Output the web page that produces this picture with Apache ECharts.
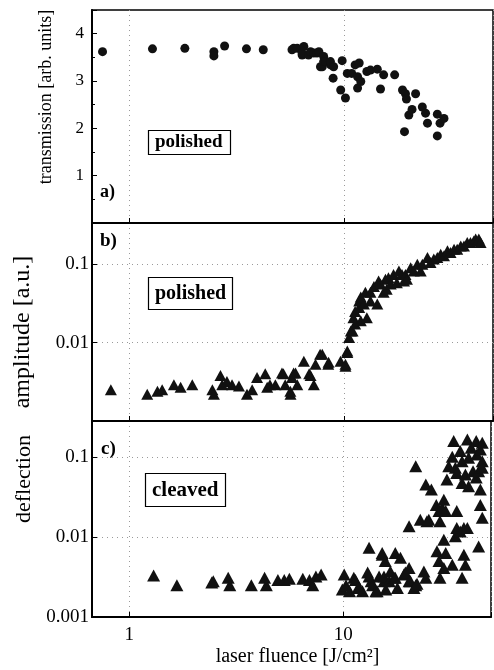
<!DOCTYPE html>
<html>
<head>
<meta charset="utf-8">
<script src="https://cdn.jsdelivr.net/npm/echarts@6/dist/echarts.min.js"></script>
<style>
  html, body { margin: 0; padding: 0; background: #fff; }
  #chart { width: 494px; height: 670px; }
</style>
</head>
<body>
<div id="chart"></div>
<script>
// a) transmission, polished sample
const transX = [0.75, 1.28, 1.81, 2.47, 2.47, 2.77, 3.50, 4.19, 5.70, 5.80, 6.03, 6.35, 6.35, 6.47, 6.80, 6.95, 7.20, 7.45, 7.60, 7.73, 7.88, 8.0, 8.0, 8.16, 8.61, 8.6, 8.85, 8.9, 9.6, 9.75, 10.1, 10.3, 10.8, 11.2, 11.5, 11.5, 11.7, 11.9, 12.7, 13.2, 14.2, 14.7, 15.2, 17.1, 18.6, 19.0, 19.2, 19.4, 19.9, 20.6, 21.4, 23.0, 23.8, 24.3, 27.0, 27.0, 27.8, 29.0];
const transY = [3.62, 3.68, 3.69, 3.62, 3.53, 3.74, 3.68, 3.66, 3.66, 3.69, 3.69, 3.55, 3.59, 3.73, 3.55, 3.62, 3.59, 3.59, 3.62, 3.30, 3.30, 3.52, 3.41, 3.41, 3.34, 3.41, 3.06, 3.30, 2.81, 3.43, 2.64, 3.16, 3.16, 3.34, 3.09, 2.85, 3.38, 2.99, 3.20, 3.23, 3.25, 2.83, 3.13, 3.13, 2.81, 1.93, 2.73, 2.62, 2.28, 2.40, 2.73, 2.45, 2.32, 2.11, 2.30, 1.84, 2.11, 2.21];

// b) amplitude, polished sample
const ampX = [0.82, 1.21, 1.35, 1.42, 1.61, 1.73, 1.96, 2.43, 2.47, 2.65, 2.70, 2.84, 3.00, 3.23, 3.52, 3.72, 3.92, 4.28, 4.37, 4.50, 4.77, 5.12, 5.20, 5.30, 5.61, 5.60, 5.70, 5.80, 5.92, 6.03, 6.47, 6.85, 6.95, 7.20, 7.33, 7.70, 7.88, 8.40, 8.43, 9.58, 10.1, 10.1, 10.3, 10.3, 10.5, 10.7, 10.9, 11.0, 11.2, 11.2, 11.7, 11.7, 11.9, 11.9, 12.3, 12.5, 12.7, 13.2, 13.2, 13.7, 14.2, 14.4, 14.7, 15.2, 15.5, 15.7, 16.0, 16.4, 16.9, 17.5, 17.9, 18.5, 18.9, 19.2, 19.5, 20.3, 21.0, 21.8, 22.6, 23.0, 24.3, 25.1, 26.0, 27.0, 28.0, 29.0, 30.1, 31.1, 32.3, 33.4, 34.7, 35.9, 37.2, 38.5, 39.9, 40.7, 42.1, 42.9];
const ampY = [0.0025, 0.0022, 0.0024, 0.0025, 0.0029, 0.0027, 0.0029, 0.0025, 0.0022, 0.0038, 0.0029, 0.0032, 0.0029, 0.0028, 0.0022, 0.0025, 0.0036, 0.0040, 0.0027, 0.0029, 0.0029, 0.0041, 0.0040, 0.0029, 0.0022, 0.0024, 0.0036, 0.0041, 0.0041, 0.0029, 0.0058, 0.0040, 0.0038, 0.0029, 0.0053, 0.0071, 0.0071, 0.0053, 0.0056, 0.0058, 0.0050, 0.0053, 0.0078, 0.0075, 0.0116, 0.0141, 0.0141, 0.0208, 0.0172, 0.025, 0.028, 0.034, 0.019, 0.038, 0.031, 0.044, 0.0208, 0.044, 0.034, 0.052, 0.031, 0.061, 0.056, 0.044, 0.064, 0.048, 0.067, 0.056, 0.074, 0.058, 0.082, 0.074, 0.061, 0.074, 0.064, 0.090, 0.082, 0.100, 0.082, 0.100, 0.122, 0.105, 0.116, 0.122, 0.134, 0.128, 0.148, 0.141, 0.155, 0.155, 0.171, 0.171, 0.189, 0.189, 0.198, 0.21, 0.21, 0.189];

// c) deflection, cleaved sample
const deflX = [1.30, 1.67, 2.43, 2.47, 2.90, 2.95, 3.72, 4.29, 4.37, 4.95, 5.30, 5.60, 6.47, 6.95, 7.20, 7.45, 7.88, 9.9, 10.1, 10.3, 10.7, 11.2, 11.4, 11.7, 11.9, 12.3, 13.0, 13.2, 13.2, 13.5, 13.7, 14.2, 14.4, 14.7, 15.2, 15.2, 15.5, 15.5, 15.7, 15.8, 16.4, 16.6, 17.3, 17.5, 17.5, 17.9, 18.5, 19.2, 19.5, 20.3, 20.3, 20.3, 20.6, 21.4, 21.8, 21.8, 22.1, 22.9, 23.8, 24.3, 24.3, 24.6, 25.1, 25.8, 27.2, 27.4, 28.0, 28.0, 28.3, 28.3, 29.0, 29.5, 29.5, 29.5, 30.1, 30.1, 30.5, 31.1, 32.3, 32.3, 32.8, 33.4, 33.4, 33.9, 33.9, 33.9, 35.2, 35.2, 35.9, 35.9, 35.9, 36.6, 36.6, 37.2, 37.2, 38.0, 38.0, 38.5, 38.5, 39.6, 40.4, 41.8, 41.8, 42.1, 42.9, 42.9, 43.7, 43.7, 43.7, 44.6, 44.6, 44.6, 44.6];
const deflY = [0.0033, 0.0025, 0.0027, 0.0028, 0.0031, 0.0025, 0.0025, 0.0031, 0.0025, 0.0029, 0.0029, 0.0030, 0.0030, 0.0029, 0.0025, 0.0032, 0.0034, 0.0022, 0.0034, 0.0025, 0.0021, 0.0031, 0.0029, 0.0023, 0.0023, 0.0021, 0.0036, 0.0073, 0.0032, 0.0028, 0.0025, 0.0021, 0.0021, 0.0032, 0.0060, 0.0063, 0.0028, 0.0032, 0.0050, 0.0022, 0.0028, 0.0037, 0.0031, 0.0063, 0.0031, 0.0023, 0.0055, 0.0034, 0.0036, 0.0136, 0.0041, 0.0028, 0.0028, 0.0023, 0.076, 0.0025, 0.0026, 0.0164, 0.0037, 0.0031, 0.045, 0.0157, 0.0164, 0.039, 0.025, 0.0066, 0.021, 0.0050, 0.0157, 0.0031, 0.023, 0.029, 0.0092, 0.0041, 0.021, 0.0063, 0.052, 0.076, 0.1, 0.0045, 0.157, 0.073, 0.0102, 0.021, 0.063, 0.0129, 0.0117, 0.118, 0.088, 0.047, 0.0031, 0.0129, 0.0060, 0.0045, 0.060, 0.164, 0.0129, 0.097, 0.043, 0.13, 0.066, 0.157, 0.055, 0.107, 0.066, 0.0076, 0.025, 0.039, 0.123, 0.0173, 0.15, 0.088, 0.073];

const pairs = (xs, ys) => xs.map((x, i) => [x, ys[i]]);

const serif = "Liberation Serif";

function powLabel(v) {
    const e = Math.log10(v);
    if (Math.abs(e - Math.round(e)) > 1e-6) return "";
    return String(+v.toPrecision(1));
}

const dotted = { show: true, lineStyle: { color: "#9a9a9a", width: 1, type: [1, 4] } };

function xAxisFor(gridIndex, last) {
    return {
        type: "log",
        logBase: 10,
        gridIndex,
        min: 0.67,
        max: 49,
        axisLine: { show: true, lineStyle: { color: "#000", width: 2 } },
        axisTick: { show: true, inside: true, length: 5, lineStyle: { color: "#000" } },
        axisLabel: {
            show: last,
            margin: 9,
            color: "#000",
            fontFamily: serif,
            fontSize: 19,
            formatter: powLabel,
        },
        splitLine: dotted,
        name: last ? "laser fluence [J/cm²]" : "",
        nameLocation: "middle",
        nameGap: 30,
        nameTextStyle: { color: "#000", fontFamily: serif, fontSize: 20, padding: [0, 0, 0, 12] },
    };
}

const chart = echarts.init(document.getElementById("chart"));

chart.setOption({
    backgroundColor: "#fff",
    animation: false,
    grid: [
        { left: 92, right: 1, top: 10, height: 213, show: true, borderColor: "#000", borderWidth: 1.5 },
        { left: 92, right: 1, top: 223, height: 198, show: true, borderColor: "#000", borderWidth: 1.5 },
        { left: 92, right: 1, top: 421, height: 196, show: true, borderColor: "#000", borderWidth: 1.5 },
    ],
    title: [
        { text: "a)", left: 95, top: 178, textStyle: { fontFamily: serif, fontSize: 18, fontWeight: "bold", color: "#000" } },
        { text: "b)", left: 95, top: 227, textStyle: { fontFamily: serif, fontSize: 19, fontWeight: "bold", color: "#000" } },
        { text: "c)", left: 96, top: 435, textStyle: { fontFamily: serif, fontSize: 19, fontWeight: "bold", color: "#000" } },
        {
            text: "polished", left: 148, top: 130, padding: [3, 8, 3, 7],
            borderColor: "#000", borderWidth: 1.2,
            textStyle: { fontFamily: serif, fontSize: 19, fontWeight: "bold", color: "#000" },
        },
        {
            text: "polished", left: 148, top: 277, padding: [7, 7, 6, 7],
            borderColor: "#000", borderWidth: 1.2,
            textStyle: { fontFamily: serif, fontSize: 20, fontWeight: "bold", color: "#000" },
        },
        {
            text: "cleaved", left: 145, top: 473, padding: [7, 7, 6, 7],
            borderColor: "#000", borderWidth: 1.2,
            textStyle: { fontFamily: serif, fontSize: 21, fontWeight: "bold", color: "#000" },
        },
    ],
    xAxis: [xAxisFor(0, false), xAxisFor(1, false), xAxisFor(2, true)],
    yAxis: [
        {
            type: "value",
            gridIndex: 0,
            min: 0,
            max: 4.5,
            interval: 1,
            axisLine: { show: true, lineStyle: { color: "#000", width: 2 } },
            axisTick: { show: true, inside: true, length: 5, lineStyle: { color: "#000" } },
            minorTick: { show: true, splitNumber: 2, length: 3, lineStyle: { color: "#000" } },
            axisLabel: {
                margin: 8,
                color: "#000",
                fontFamily: serif,
                fontSize: 17,
                formatter: (v) => (v > 0 && Number.isInteger(v) ? String(v) : ""),
            },
            splitLine: { show: false },
            name: "transmission [arb. units]",
            nameLocation: "middle",
            nameGap: 37,
            nameTextStyle: { color: "#000", fontFamily: serif, fontSize: 18, padding: [0, 0, 0, 39] },
        },
        {
            type: "log",
            logBase: 10,
            gridIndex: 1,
            min: 0.001,
            max: 0.335,
            axisLine: { show: true, lineStyle: { color: "#000", width: 2 } },
            axisTick: { show: true, inside: true, length: 5, lineStyle: { color: "#000" } },
            axisLabel: {
                margin: 3,
                color: "#000",
                fontFamily: serif,
                fontSize: 19,
                formatter: (v) => (v < 0.005 ? "" : powLabel(v)),
            },
            splitLine: dotted,
            name: "amplitude [a.u.]",
            nameLocation: "middle",
            nameGap: 57,
            nameTextStyle: { color: "#000", fontFamily: serif, fontSize: 24, padding: [0, 20, 0, 0] },
        },
        {
            type: "log",
            logBase: 10,
            gridIndex: 2,
            min: 0.001,
            max: 0.28,
            axisLine: { show: true, lineStyle: { color: "#000", width: 2 } },
            axisTick: { show: true, inside: true, length: 5, lineStyle: { color: "#000" } },
            axisLabel: {
                margin: 3,
                color: "#000",
                fontFamily: serif,
                fontSize: 19,
                formatter: powLabel,
            },
            splitLine: dotted,
            name: "deflection",
            nameLocation: "middle",
            nameGap: 57,
            nameTextStyle: { color: "#000", fontFamily: serif, fontSize: 22, padding: [0, 0, 0, 80] },
        },
    ],
    series: [
        {
            name: "transmission",
            type: "scatter",
            xAxisIndex: 0,
            yAxisIndex: 0,
            symbol: "circle",
            symbolSize: 9,
            itemStyle: { color: "#111", opacity: 1 },
            data: pairs(transX, transY),
        },
        {
            name: "amplitude",
            type: "scatter",
            xAxisIndex: 1,
            yAxisIndex: 1,
            symbol: "triangle",
            symbolSize: [12, 11],
            itemStyle: { color: "#111", opacity: 1 },
            data: pairs(ampX, ampY),
        },
        {
            name: "deflection",
            type: "scatter",
            xAxisIndex: 2,
            yAxisIndex: 2,
            symbol: "triangle",
            symbolSize: [13, 12],
            itemStyle: { color: "#111", opacity: 1 },
            data: pairs(deflX, deflY),
        },
    ],
});
</script>
</body>
</html>
